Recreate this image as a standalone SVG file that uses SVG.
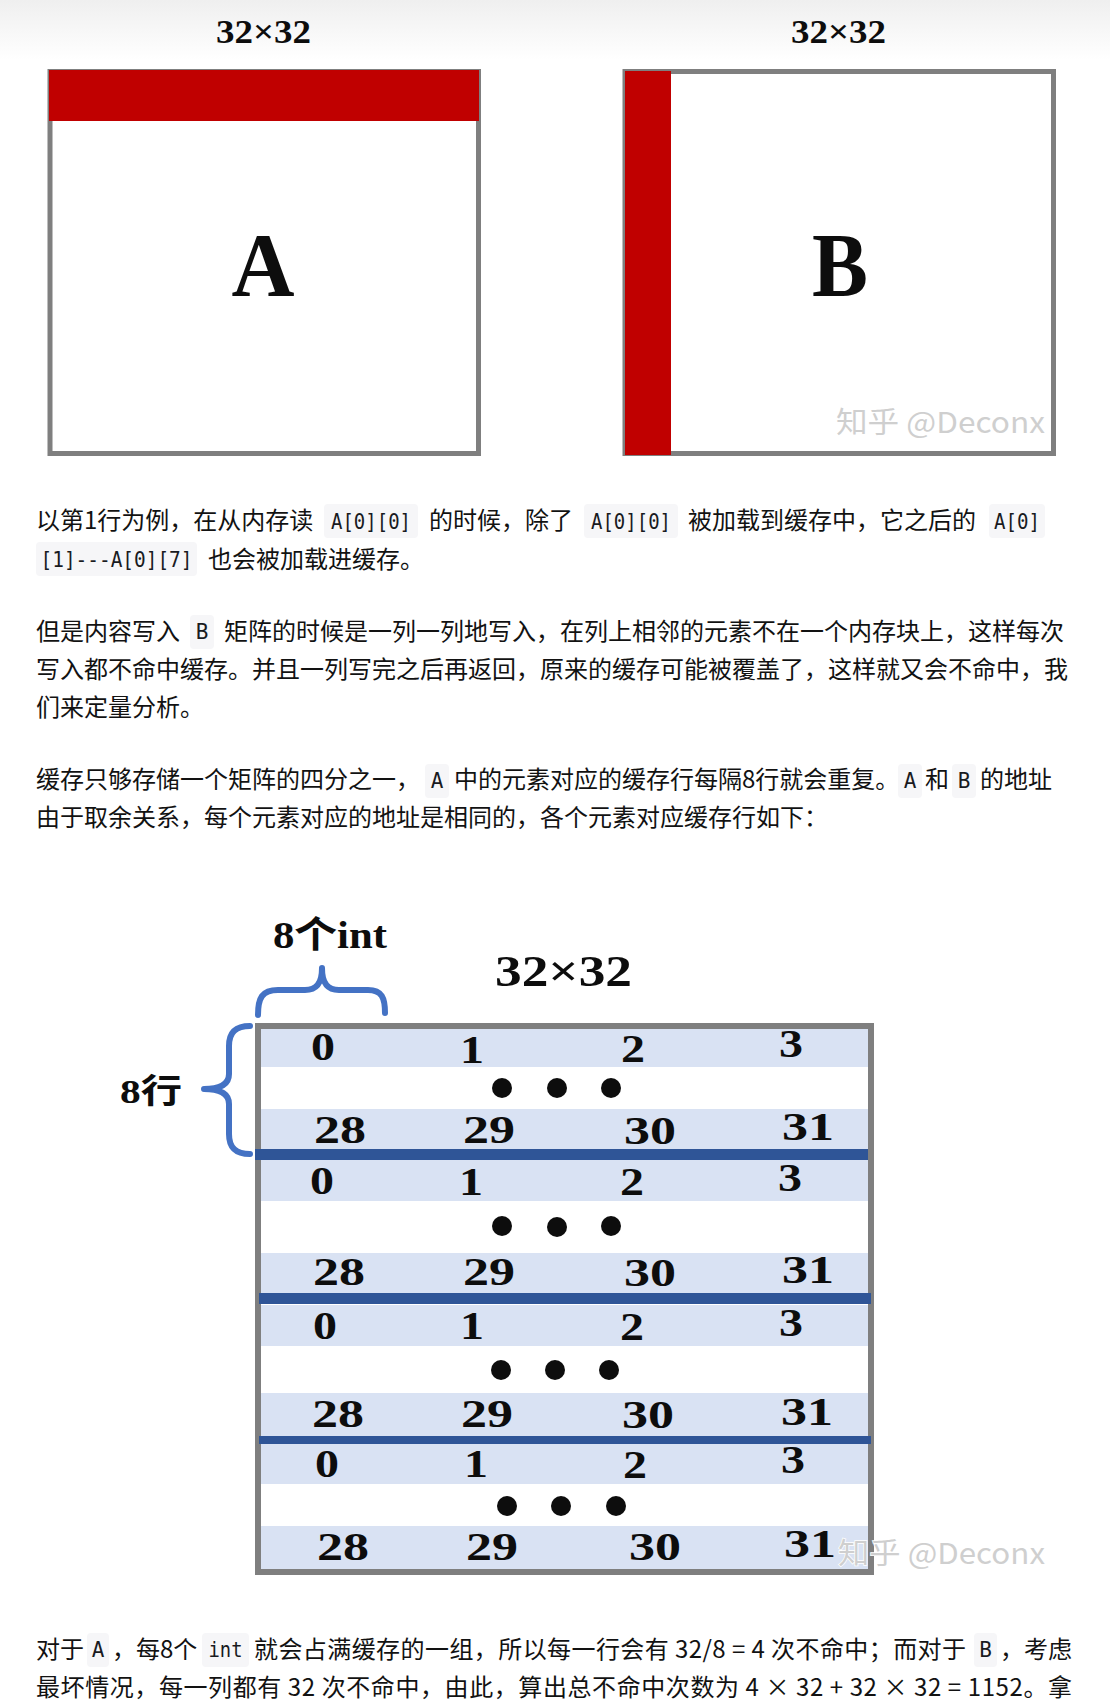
<svg xmlns="http://www.w3.org/2000/svg" width="1110" height="1705" viewBox="0 0 1110 1705">
<defs>
<linearGradient id="topfade" x1="0" y1="0" x2="0" y2="1">
<stop offset="0" stop-color="#efefef"/>
<stop offset="1" stop-color="#ffffff"/>
</linearGradient>
<style>
.ser{font-family:"Liberation Serif","Noto Sans CJK SC",serif;font-weight:bold;fill:#0d0d0d}
.num{font-family:"Liberation Serif",serif;font-weight:bold;font-size:39px;fill:#0d0d0d;text-anchor:middle}
.p{font-family:"Noto Sans CJK SC","Noto Sans",sans-serif;font-size:24px;fill:#121212}
.code{font-family:"DejaVu Sans Mono","Liberation Mono",monospace;font-size:21px;fill:#191b1f;text-anchor:middle}
.cbg{fill:#f6f6f8}
.wm{font-family:"Noto Sans CJK SC","Noto Sans",sans-serif;font-size:29px;fill:#cfcfcf;stroke:#ffffff;stroke-width:1.5px;paint-order:stroke}
.blue{fill:#d9e2f3}
.sep{fill:#2f5597}
.brace{fill:none;stroke:#4472c4;stroke-width:6;stroke-linecap:round;stroke-linejoin:round}
.dot{fill:#0d0d0d}
</style>
</defs>
<rect x="0" y="0" width="1110" height="1705" fill="#ffffff"/>
<rect x="0" y="0" width="1110" height="60" fill="url(#topfade)"/>

<g id="matrixA">
<text class="ser" x="216" y="43" font-size="33" textLength="95" lengthAdjust="spacingAndGlyphs">32×32</text>
<rect x="50" y="71.5" width="428.5" height="382" fill="#ffffff" stroke="#7f7f7f" stroke-width="5"/>
<rect x="49" y="70" width="430" height="51" fill="#c00000"/>
<text class="ser" x="263" y="296" font-size="92" text-anchor="middle" textLength="63" lengthAdjust="spacingAndGlyphs">A</text>
</g>

<g id="matrixB">
<text class="ser" x="791" y="43" font-size="33" textLength="95" lengthAdjust="spacingAndGlyphs">32×32</text>
<rect x="625" y="71.5" width="428.5" height="382" fill="#ffffff" stroke="#7f7f7f" stroke-width="5"/>
<rect x="625" y="71" width="46" height="384" fill="#c00000"/>
<text class="ser" x="840" y="296" font-size="92" text-anchor="middle" textLength="56" lengthAdjust="spacingAndGlyphs">B</text>
<text class="wm" x="836" y="433" textLength="209" lengthAdjust="spacingAndGlyphs">知乎 @Deconx</text>
</g>

<g id="para1">
<text class="p" x="36" y="529">以第1行为例，在从内存读</text>
<rect class="cbg" x="324" y="504" width="94" height="34" rx="4"/>
<text class="code" x="371" y="529" textLength="80" lengthAdjust="spacingAndGlyphs">A[0][0]</text>
<text class="p" x="429" y="529">的时候，除了</text>
<rect class="cbg" x="584" y="504" width="94" height="34" rx="4"/>
<text class="code" x="631" y="529" textLength="80" lengthAdjust="spacingAndGlyphs">A[0][0]</text>
<text class="p" x="688" y="529">被加载到缓存中，它之后的</text>
<rect class="cbg" x="989" y="504" width="56" height="34" rx="4"/>
<text class="code" x="1017" y="529" textLength="46" lengthAdjust="spacingAndGlyphs">A[0]</text>
<rect class="cbg" x="36" y="542" width="161" height="34" rx="4"/>
<text class="code" x="116.5" y="567" textLength="152" lengthAdjust="spacingAndGlyphs">[1]---A[0][7]</text>
<text class="p" x="208" y="568">也会被加载进缓存。</text>
</g>

<g id="para2">
<text class="p" x="36" y="640">但是内容写入</text>
<rect class="cbg" x="190" y="615" width="24" height="34" rx="4"/>
<text class="code" x="202" y="639">B</text>
<text class="p" x="224" y="640">矩阵的时候是一列一列地写入，在列上相邻的元素不在一个内存块上，这样每次</text>
<text class="p" x="36" y="678">写入都不命中缓存。并且一列写完之后再返回，原来的缓存可能被覆盖了，这样就又会不命中，我</text>
<text class="p" x="36" y="716">们来定量分析。</text>
</g>

<g id="para3">
<text class="p" x="36" y="788">缓存只够存储一个矩阵的四分之一，</text>
<rect class="cbg" x="425" y="764" width="24" height="34" rx="4"/>
<text class="code" x="437" y="788">A</text>
<text class="p" x="454" y="788">中的元素对应的缓存行每隔8行就会重复。</text>
<rect class="cbg" x="898" y="764" width="24" height="34" rx="4"/>
<text class="code" x="910" y="788">A</text>
<text class="p" x="925" y="788">和</text>
<rect class="cbg" x="952" y="764" width="24" height="34" rx="4"/>
<text class="code" x="964" y="788">B</text>
<text class="p" x="980" y="788">的地址</text>
<text class="p" x="36" y="826">由于取余关系，每个元素对应的地址是相同的，各个元素对应缓存行如下：</text>
</g>

<g id="cacheTable">
<rect x="258" y="1026" width="613" height="546" fill="#ffffff"/>
<rect class="blue" x="258" y="1026" width="613" height="41"/>
<rect class="blue" x="258" y="1109" width="613" height="41"/>
<rect class="blue" x="258" y="1160" width="613" height="41"/>
<rect class="blue" x="258" y="1253" width="613" height="41"/>
<rect class="blue" x="258" y="1305" width="613" height="41"/>
<rect class="blue" x="258" y="1393" width="613" height="44"/>
<rect class="blue" x="258" y="1444" width="613" height="40"/>
<rect class="blue" x="258" y="1526" width="613" height="46"/>
<rect x="258" y="1026" width="613" height="546" fill="none" stroke="#7f7f7f" stroke-width="6"/>
<rect class="sep" x="255" y="1149" width="613" height="11"/>
<rect class="sep" x="259" y="1293" width="612" height="11"/>
<rect class="sep" x="259" y="1436" width="612" height="8"/>

<text class="num" x="323" y="1060" textLength="24" lengthAdjust="spacingAndGlyphs">0</text>
<text class="num" x="472" y="1063" textLength="24" lengthAdjust="spacingAndGlyphs">1</text>
<text class="num" x="633" y="1062" textLength="24" lengthAdjust="spacingAndGlyphs">2</text>
<text class="num" x="791" y="1057" textLength="24" lengthAdjust="spacingAndGlyphs">3</text>
<circle class="dot" cx="502" cy="1088" r="10"/>
<circle class="dot" cx="557" cy="1088" r="10"/>
<circle class="dot" cx="611" cy="1088" r="10"/>
<text class="num" x="340" y="1143" textLength="52" lengthAdjust="spacingAndGlyphs">28</text>
<text class="num" x="489" y="1143" textLength="52" lengthAdjust="spacingAndGlyphs">29</text>
<text class="num" x="650" y="1144" textLength="52" lengthAdjust="spacingAndGlyphs">30</text>
<text class="num" x="808" y="1140" textLength="52" lengthAdjust="spacingAndGlyphs">31</text>

<text class="num" x="322" y="1194" textLength="24" lengthAdjust="spacingAndGlyphs">0</text>
<text class="num" x="471" y="1195" textLength="24" lengthAdjust="spacingAndGlyphs">1</text>
<text class="num" x="632" y="1195" textLength="24" lengthAdjust="spacingAndGlyphs">2</text>
<text class="num" x="790" y="1191" textLength="24" lengthAdjust="spacingAndGlyphs">3</text>
<circle class="dot" cx="502" cy="1226" r="10"/>
<circle class="dot" cx="557" cy="1227" r="10"/>
<circle class="dot" cx="611" cy="1226" r="10"/>
<text class="num" x="339" y="1285" textLength="52" lengthAdjust="spacingAndGlyphs">28</text>
<text class="num" x="489" y="1285" textLength="52" lengthAdjust="spacingAndGlyphs">29</text>
<text class="num" x="650" y="1286" textLength="52" lengthAdjust="spacingAndGlyphs">30</text>
<text class="num" x="808" y="1283" textLength="52" lengthAdjust="spacingAndGlyphs">31</text>

<text class="num" x="325" y="1339" textLength="24" lengthAdjust="spacingAndGlyphs">0</text>
<text class="num" x="472" y="1339" textLength="24" lengthAdjust="spacingAndGlyphs">1</text>
<text class="num" x="632" y="1340" textLength="24" lengthAdjust="spacingAndGlyphs">2</text>
<text class="num" x="791" y="1336" textLength="24" lengthAdjust="spacingAndGlyphs">3</text>
<circle class="dot" cx="501" cy="1370" r="10"/>
<circle class="dot" cx="555" cy="1370" r="10"/>
<circle class="dot" cx="609" cy="1370" r="10"/>
<text class="num" x="338" y="1427" textLength="52" lengthAdjust="spacingAndGlyphs">28</text>
<text class="num" x="487" y="1427" textLength="52" lengthAdjust="spacingAndGlyphs">29</text>
<text class="num" x="648" y="1428" textLength="52" lengthAdjust="spacingAndGlyphs">30</text>
<text class="num" x="807" y="1425" textLength="52" lengthAdjust="spacingAndGlyphs">31</text>

<text class="num" x="327" y="1477" textLength="24" lengthAdjust="spacingAndGlyphs">0</text>
<text class="num" x="476" y="1477" textLength="24" lengthAdjust="spacingAndGlyphs">1</text>
<text class="num" x="635" y="1478" textLength="24" lengthAdjust="spacingAndGlyphs">2</text>
<text class="num" x="793" y="1473" textLength="24" lengthAdjust="spacingAndGlyphs">3</text>
<circle class="dot" cx="507" cy="1506" r="10"/>
<circle class="dot" cx="561" cy="1506" r="10"/>
<circle class="dot" cx="616" cy="1506" r="10"/>
<text class="num" x="343" y="1560" textLength="52" lengthAdjust="spacingAndGlyphs">28</text>
<text class="num" x="492" y="1560" textLength="52" lengthAdjust="spacingAndGlyphs">29</text>
<text class="num" x="655" y="1560" textLength="52" lengthAdjust="spacingAndGlyphs">30</text>
<text class="num" x="810" y="1557" textLength="52" lengthAdjust="spacingAndGlyphs">31</text>

<text class="wm" x="838" y="1564" textLength="207" lengthAdjust="spacingAndGlyphs">知乎 @Deconx</text>
</g>

<g id="labels">
<text class="ser" x="273" y="948" font-size="37" textLength="114" lengthAdjust="spacingAndGlyphs">8个int</text>
<text class="ser" x="495" y="986" font-size="45" textLength="137" lengthAdjust="spacingAndGlyphs">32×32</text>
<text class="ser" x="120" y="1103" font-size="34" textLength="62" lengthAdjust="spacingAndGlyphs">8行</text>
</g>

<g id="braces">
<path class="brace" d="M258,1015 C258,998 262,990 278,990 L305,990 C316,990 322,984 322,968 C322,984 328,990 339,990 L368,990 C382,990 385,998 385,1013"/>
<path class="brace" d="M250,1026 C236,1026 229,1032 229,1046 L229,1074 C229,1083 222,1089 204,1089 C222,1089 229,1095 229,1104 L229,1134 C229,1148 236,1154 250,1154"/>
</g>

<g id="para4">
<text class="p" x="36" y="1658">对于</text>
<rect class="cbg" x="87" y="1633" width="22" height="34" rx="4"/>
<text class="code" x="98" y="1657">A</text>
<text class="p" x="112" y="1658">，每8个</text>
<rect class="cbg" x="202" y="1633" width="47" height="34" rx="4"/>
<text class="code" x="225.5" y="1657" textLength="34" lengthAdjust="spacingAndGlyphs">int</text>
<text class="p" x="254" y="1658" textLength="712" lengthAdjust="spacing">就会占满缓存的一组，所以每一行会有 32/8 = 4 次不命中；而对于</text>
<rect class="cbg" x="974" y="1633" width="23" height="34" rx="4"/>
<text class="code" x="985.5" y="1657">B</text>
<text class="p" x="1000" y="1658">，考虑</text>
<text class="p" x="36" y="1696" textLength="1036" lengthAdjust="spacing">最坏情况，每一列都有 32 次不命中，由此，算出总不命中次数为 4 × 32 + 32 × 32 = 1152。拿</text>
</g>
</svg>
